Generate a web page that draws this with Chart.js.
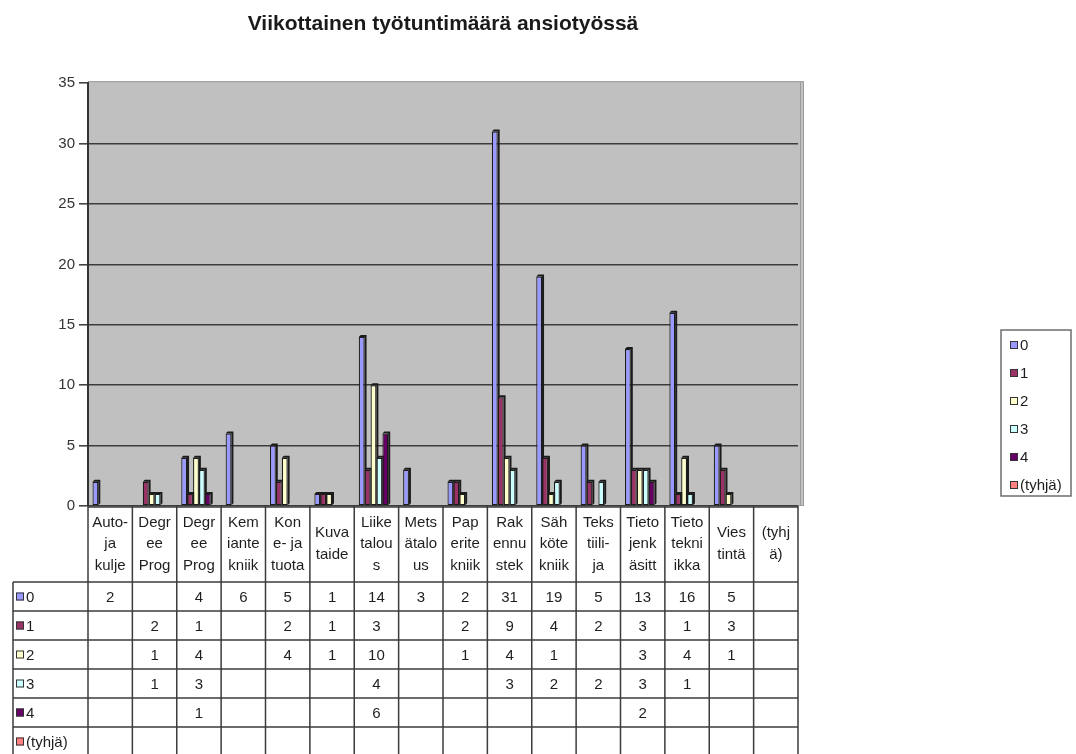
<!DOCTYPE html>
<html>
<head>
<meta charset="utf-8">
<title>Viikottainen työtuntimäärä ansiotyössä</title>
<script src="https://cdn.jsdelivr.net/npm/chart.js@4.4.0/dist/chart.umd.min.js"></script>
<style>
  html, body { margin: 0; padding: 0; background: #fff; }
  canvas { display: block; }
</style>
</head>
<body>
<canvas id="hoursChart" width="1076" height="754"></canvas>
<script>
// Koulutusalat (lyhennetyt nimet taulukon otsakkeisiin, rivi kerrallaan)
const categories = [
    ['Auto-', 'ja', 'kulje'],
    ['Degr', 'ee', 'Prog'],
    ['Degr', 'ee', 'Prog'],
    ['Kem', 'iante', 'kniik'],
    ['Kon', 'e- ja', 'tuota'],
    ['Kuva', 'taide'],
    ['Liike', 'talou', 's'],
    ['Mets', 'ätalo', 'us'],
    ['Pap', 'erite', 'kniik'],
    ['Rak', 'ennu', 'stek'],
    ['Säh', 'köte', 'kniik'],
    ['Teks', 'tiili-', 'ja'],
    ['Tieto', 'jenk', 'äsitt'],
    ['Tieto', 'tekni', 'ikka'],
    ['Vies', 'tintä'],
    ['(tyhj', 'ä)']
];

const seriesNames = ['0', '1', '2', '3', '4', '(tyhjä)'];

// Vastausten lukumäärät työtuntiluokittain
const hours0 = [2, null, 4, 6, 5, 1, 14, 3, 2, 31, 19, 5, 13, 16, 5, null];
const hours1 = [null, 2, 1, null, 2, 1, 3, null, 2, 9, 4, 2, 3, 1, 3, null];
const hours2 = [null, 1, 4, null, 4, 1, 10, null, 1, 4, 1, null, 3, 4, 1, null];
const hours3 = [null, 1, 3, null, null, null, 4, null, null, 3, 2, 2, 3, 1, null, null];
const hours4 = [null, null, 1, null, null, null, 6, null, null, null, null, null, 2, null, null, null];
const hoursEmpty = [null, null, null, null, null, null, null, null, null, null, null, null, null, null, null, null];

const yTicks = [0, 5, 10, 15, 20, 25, 30, 35];

const seriesColors = ['#9999ff', '#993366', '#ffffcc', '#ccffff', '#660066', '#ff8080'];

const FONT = '"Liberation Sans", Arial, sans-serif';
const LINE = '#3c3c3c';

// harmaa kuva-ala kolmiulotteisine reunoineen
const plotBackground = {
    id: 'plotBackground',
    beforeDraw(chart) {
        const { ctx, chartArea: a } = chart;
        ctx.save();
        ctx.fillStyle = '#c0c0c0';
        ctx.fillRect(a.left, a.top - 2, a.right - a.left + 6, a.bottom - a.top + 2);
        ctx.strokeStyle = '#9c9c9c';
        ctx.lineWidth = 1;
        ctx.strokeRect(a.left + 0.5, a.top - 1.5, a.right - a.left + 5, a.bottom - a.top + 1);
        ctx.beginPath();
        ctx.moveTo(a.right + 2.5, a.top - 1);
        ctx.lineTo(a.right + 2.5, a.bottom);
        ctx.stroke();
        ctx.restore();
    }
};

// pylväät piirretään vasemmalta oikealle ja niille lisätään tumma katto ja kylki
const barDepth = {
    id: 'barDepth',
    beforeDatasetsDraw(chart) {
        const ctx = chart.ctx;
        const d = 2;
        ctx.save();
        chart.data.datasets.forEach((ds, di) => {
            const meta = chart.getDatasetMeta(di);
            meta.data.forEach((bar, i) => {
                if (ds.data[i] == null) return;
                bar.draw(ctx);
                const { x, y, base, width } = bar.getProps(['x', 'y', 'base', 'width'], true);
                const l = x - width / 2, r = x + width / 2;
                ctx.fillStyle = '#1b1b1b';
                ctx.beginPath();
                ctx.moveTo(l, y);
                ctx.lineTo(l + d, y - d);
                ctx.lineTo(r + d, y - d);
                ctx.lineTo(r + d, base - d);
                ctx.lineTo(r, base);
                ctx.lineTo(r, y);
                ctx.closePath();
                ctx.fill();
            });
        });
        ctx.restore();
        return false;
    }
};

// datataulukko kaavion alle
const dataTable = {
    id: 'dataTable',
    afterDraw(chart) {
        const { ctx, chartArea: a } = chart;
        const n = categories.length;
        const catW = (a.right - a.left) / n;
        const top = a.bottom;
        const headBottom = top + 76;
        const rowH = 29;
        const bottom = chart.height + 2;
        const tableLeft = 13;

        ctx.save();
        ctx.strokeStyle = LINE;
        ctx.lineWidth = 1.5;

        ctx.beginPath();
        ctx.moveTo(a.left, top + 1);
        ctx.lineTo(a.right, top + 1);
        for (let k = 0; k < seriesNames.length; k++) {
            const yy = headBottom + k * rowH;
            ctx.moveTo(tableLeft, yy);
            ctx.lineTo(a.right, yy);
        }
        for (let i = 0; i <= n; i++) {
            const xx = a.left + i * catW;
            ctx.moveTo(xx, top);
            ctx.lineTo(xx, bottom);
        }
        ctx.moveTo(tableLeft, headBottom);
        ctx.lineTo(tableLeft, bottom);
        ctx.stroke();

        ctx.fillStyle = '#1e1e1e';
        ctx.font = '15px ' + FONT;
        ctx.textAlign = 'center';
        ctx.textBaseline = 'middle';

        const headMid = (top + headBottom) / 2;
        categories.forEach((lines, i) => {
            const cx = a.left + (i + 0.5) * catW;
            lines.forEach((t, k) => {
                ctx.fillText(t, cx, headMid + (k - (lines.length - 1) / 2) * 21.5);
            });
        });

        chart.data.datasets.forEach((ds, di) => {
            const cy = headBottom + (di + 0.5) * rowH;
            ds.data.forEach((v, i) => {
                if (v == null) return;
                ctx.fillText(String(v), a.left + (i + 0.5) * catW, cy + 1);
            });
            // sarjan tunniste vasemmassa sarakkeessa
            ctx.fillStyle = seriesColors[di];
            ctx.fillRect(16, cy - 4, 8, 8);
            ctx.lineWidth = 1;
            ctx.strokeStyle = '#333';
            ctx.strokeRect(16.5, cy - 3.5, 7, 7);
            ctx.fillStyle = '#1e1e1e';
            ctx.textAlign = 'left';
            ctx.fillText(ds.label, 26, cy + 1);
            ctx.textAlign = 'center';
        });
        ctx.restore();
    }
};

// selite oikealla kehyksen sisällä
const boxedLegend = {
    id: 'boxedLegend',
    afterDraw(chart) {
        const ctx = chart.ctx;
        const bx = 1001, by = 330, bw = 70, bh = 166;
        ctx.save();
        ctx.strokeStyle = '#6e6e6e';
        ctx.lineWidth = 1.5;
        ctx.strokeRect(bx, by, bw, bh);
        ctx.font = '15px ' + FONT;
        ctx.textBaseline = 'middle';
        ctx.textAlign = 'left';
        chart.data.datasets.forEach((ds, di) => {
            const cy = by + 15 + di * 28;
            ctx.fillStyle = seriesColors[di];
            ctx.fillRect(1010, cy - 4, 8, 8);
            ctx.lineWidth = 1;
            ctx.strokeStyle = '#333';
            ctx.strokeRect(1010.5, cy - 3.5, 7, 7);
            ctx.fillStyle = '#1e1e1e';
            ctx.fillText(ds.label, 1020, cy + 1);
        });
        ctx.restore();
    }
};

const seriesData = [hours0, hours1, hours2, hours3, hours4, hoursEmpty];

const ctx = document.getElementById('hoursChart').getContext('2d');
const chart = new Chart(ctx, {
    type: 'bar',
    data: {
        labels: categories,
        datasets: seriesNames.map((name, i) => ({
            label: name,
            data: seriesData[i],
            backgroundColor: seriesColors[i],
            borderColor: '#1b1b1b',
            borderWidth: 1.2,
            borderSkipped: false,
            categoryPercentage: 0.8,
            barPercentage: 0.98
        }))
    },
    options: {
        responsive: false,
        animation: false,
        layout: {
            padding: { left: 0, top: 0, right: 278, bottom: 248 }
        },
        plugins: {
            legend: { display: false },
            tooltip: { enabled: false },
            title: {
                display: true,
                fullSize: false,
                text: 'Viikottainen työtuntimäärä ansiotyössä',
                color: '#1a1a1a',
                font: { family: FONT, size: 21, weight: 'bold' },
                padding: { top: 12, bottom: 46 }
            }
        },
        scales: {
            x: {
                display: false,
                offset: true
            },
            y: {
                min: 0,
                max: 35,
                afterFit(scale) { scale.width = 88; },
                afterBuildTicks(scale) { scale.ticks = yTicks.map(v => ({ value: v })); },
                ticks: {
                    color: '#333',
                    padding: 4,
                    font: { family: FONT, size: 15 }
                },
                grid: {
                    color: c => (c.tick && c.tick.value === 35 ? 'rgba(0,0,0,0)' : LINE),
                    lineWidth: 1.6,
                    tickLength: 9,
                    tickColor: '#444'
                },
                border: { display: true, color: '#333', width: 2 }
            }
        }
    },
    plugins: [plotBackground, barDepth, dataTable, boxedLegend]
});
</script>
</body>
</html>
